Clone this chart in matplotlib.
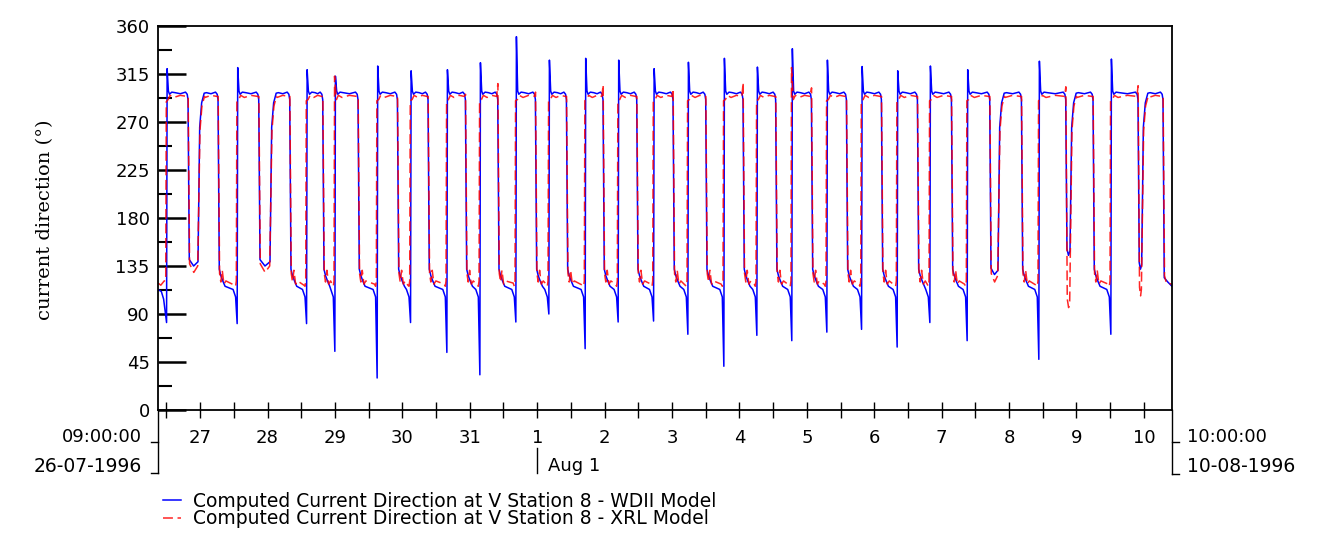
import matplotlib
matplotlib.use("Agg")
import matplotlib.pyplot as plt
from matplotlib.lines import Line2D
from matplotlib.transforms import blended_transform_factory

# time axis in hours after 26-07-1996 09:00:00, ends 10-08-1996 10:00:00
T_END = 361.0

# flow swings back to ~297 deg (one entry per swing, the first one during day 26)
rise_h = [3.10, 14.24, 28.23, 39.87, 52.94, 63.01, 78.07, 89.96, 102.89, 114.64,
          127.45, 139.20, 152.12, 163.87, 176.48, 188.69, 201.50, 213.25, 225.69,
          238.17, 250.53, 263.20, 274.84, 288.12, 299.05, 313.64, 324.68, 339.28,
          350.20]
# flow turns to ~130 deg
fall_h = [10.79, 21.47, 35.96, 46.99, 58.74, 71.31, 85.33, 96.23, 109.54, 121.05,
          134.46, 145.50, 158.53, 170.53, 183.45, 195.09, 208.37, 219.99, 232.72,
          245.18, 257.64, 270.46, 282.57, 296.20, 307.49, 323.26, 332.98, 348.99,
          357.89]
# swings without the sharp spike (smooth U-shaped turn)
u_shaped = [1, 3, 24, 26, 28]

# WDII model: lowest value just before each swing, and the overshoot after it
blue_min = [82, 135, 81, 135, 81, 55, 30, 82, 54, 33, 82.5, 90, 57.5, 82.5, 83.4,
            71, 41, 70, 65, 73, 75.6, 59, 82, 65, 127, 47.5, 145, 71, 132]
blue_peak = [320, 297, 321, 297, 319, 313, 322.5, 318, 319, 325.6, 350, 328, 329.7,
             328, 320, 326, 329.7, 321.5, 338.7, 328, 322, 318, 322.5, 319, 297, 327,
             297, 329, 297]

# XRL model: low before each swing, top right after it, top right before each fall
red_low = [118, 129, 117, 129, 117, 118, 118, 117, 118, 117, 119, 118, 117, 118, 118,
           117, 118, 118, 117, 118, 118, 117, 118, 118, 120, 117, 96, 118, 107]
red_rise_top = [289, 290, 290, 290, 290, 313, 290, 290, 290, 290, 290, 290, 290, 290,
                290, 290, 290, 290, 321, 290, 290, 290, 290, 290, 290, 290, 290, 290, 290]
red_fall_top = [294, 294, 294, 294, 294, 294, 294, 294, 296, 306, 298, 294, 305, 294,
                301, 294, 307, 294, 302, 294, 294, 294, 294, 294, 294, 303, 294, 304, 294]

day_labels = ["27", "28", "29", "30", "31", "1", "2", "3", "4", "5", "6", "7",
              "8", "9", "10"]


def blue_series():
    t = [0.0, 1.2, 2.0]
    v = [113, 111, 104]
    for i, tr in enumerate(rise_h):
        if i > 0:
            tf = fall_h[i - 1]
            if i in u_shaped:
                t += [tf + 0.35, (tf + 0.35 + tr) / 2, tr]
                v += [blue_min[i] + 6, blue_min[i], blue_min[i] + 4]
            else:
                t += [tf + 0.35, tf + 0.9, tf + 1.6, tf + 2.4, tr - 1.5, tr - 0.6]
                v += [132, 126, 121, 116, 113, 106]
        if i in u_shaped:
            t += [tr + 0.6, tr + 1.3, tr + 2.2]
            v += [265, 288, 297]
        else:
            t += [tr - 0.05, tr + 0.15, tr + 0.6, tr + 1.0, tr + 1.8]
            v += [blue_min[i], blue_peak[i], 299, 296, 298]
        tf = fall_h[i]
        t += [tr + 3.0, (tr + tf) / 2 + 1, tf - 1.0, tf - 0.4, tf - 0.1]
        v += [297.5, 296.5, 298, 296, 291]
    t += [fall_h[-1] + 0.35, 359.5, T_END]
    v += [124, 120, 116]
    return t, v


def red_series():
    t = [0.0, 1.0, 2.2]
    v = [119, 117, 121]
    for i, tr in enumerate(rise_h):
        if i > 0:
            tf = fall_h[i - 1]
            if i in u_shaped:
                t += [tf + 0.45, (tf + 0.45 + tr) / 2, tr - 0.1]
                v += [red_low[i] + 8, red_low[i], red_low[i] + 6]
            else:
                t += [tf + 0.45, tf + 0.9, tf + 1.4, tf + 2.0, tf + 2.7, tr - 1.0, tr - 0.6]
                v += [128, 120, 131, 118, 121, red_low[i], 116]
        if i in u_shaped:
            t += [tr + 0.7, tr + 1.4, tr + 2.3]
            v += [262, 285, 294]
        else:
            t += [tr - 0.35, tr - 0.15, tr + 0.5, tr + 1.2]
            v += [121, red_rise_top[i], 291, 295]
        tf = fall_h[i]
        t += [tr + 2.5, (tr + tf) / 2 + 1, tf - 0.5, tf - 0.05]
        v += [293, 295, 294, red_fall_top[i]]
    t += [fall_h[-1] + 0.45, 359.0, T_END]
    v += [126, 119, 118]
    return t, v


W, H = 1335, 541
fig = plt.figure(figsize=(W / 100, H / 100), dpi=100)
ax = fig.add_axes([158 / W, 1 - 410 / H, 1014 / W, 384 / H])

tb, vb = blue_series()
tr_, vr = red_series()
l1, = ax.plot(tb, vb, color="#0000ff", lw=1.1)
l2, = ax.plot(tr_, vr, color="#ff0000", lw=1.1, ls=(0, (6.5, 3)), alpha=0.85)

ax.set_xlim(0, T_END)
ax.set_ylim(0, 360)

ax.set_yticks(range(0, 361, 45))
ax.set_yticks([22.5 + 45 * k for k in range(8)], minor=True)
ax.tick_params(axis="y", which="major", direction="in", length=20, width=1.8,
               labelsize=13, pad=6)
ax.tick_params(axis="y", which="minor", direction="in", length=10, width=1.5)

midnights = [15 + 24 * k for k in range(15)]
noons = [3 + 24 * k for k in range(15)]
ax.set_xticks(midnights)
ax.set_xticklabels(day_labels)
ax.set_xticks(noons, minor=True)
ax.tick_params(axis="x", which="both", direction="inout", length=12, width=1.0,
               labelsize=13, pad=7.5)

for s in ax.spines.values():
    s.set_linewidth(1.3)

fig.text(45 / W, 1 - 220 / H, "current direction (°)", rotation=90,
         ha="center", va="center", fontsize=14, family="DejaVu Serif")

# start / end markers below the axis
def px(x, y):
    return x / W, 1 - y / H

for xs, ys in [([158, 158], [410, 473]), ([151, 158], [442, 442]), ([151, 158], [473, 473]),
               ([1172, 1172], [410, 474]), ([1172, 1179], [442, 442]), ([1172, 1179], [474, 474])]:
    fig.add_artist(Line2D([x / W for x in xs], [1 - y / H for y in ys],
                          color="black", lw=1.0))

fig.text(*px(142, 437), "09:00:00", ha="right", va="center", fontsize=13)
fig.text(*px(142, 467), "26-07-1996", ha="right", va="center", fontsize=13.5)
fig.text(*px(1187, 437), "10:00:00", ha="left", va="center", fontsize=13)
fig.text(*px(1187, 466), "10-08-1996", ha="left", va="center", fontsize=13.5)

aug1 = 15 + 24 * 5
trans = blended_transform_factory(ax.transData, fig.transFigure)
fig.add_artist(Line2D([aug1, aug1], [1 - 448 / H, 1 - 473 / H], color="black",
                      lw=1.0, transform=trans))
fig.text(548 / W, 1 - 466 / H, "Aug 1", ha="left", va="center", fontsize=13)

ax.legend([l1, l2],
          ["Computed Current Direction at V Station 8 - WDII Model",
           "Computed Current Direction at V Station 8 - XRL Model"],
          loc="upper left", bbox_to_anchor=(163 / W, 1 - 492 / H),
          bbox_transform=fig.transFigure, frameon=False, fontsize=13.5,
          handlelength=0.95, handletextpad=0.65, labelspacing=-0.08, borderpad=0,
          borderaxespad=0)

fig.savefig("out.png", dpi=100)
